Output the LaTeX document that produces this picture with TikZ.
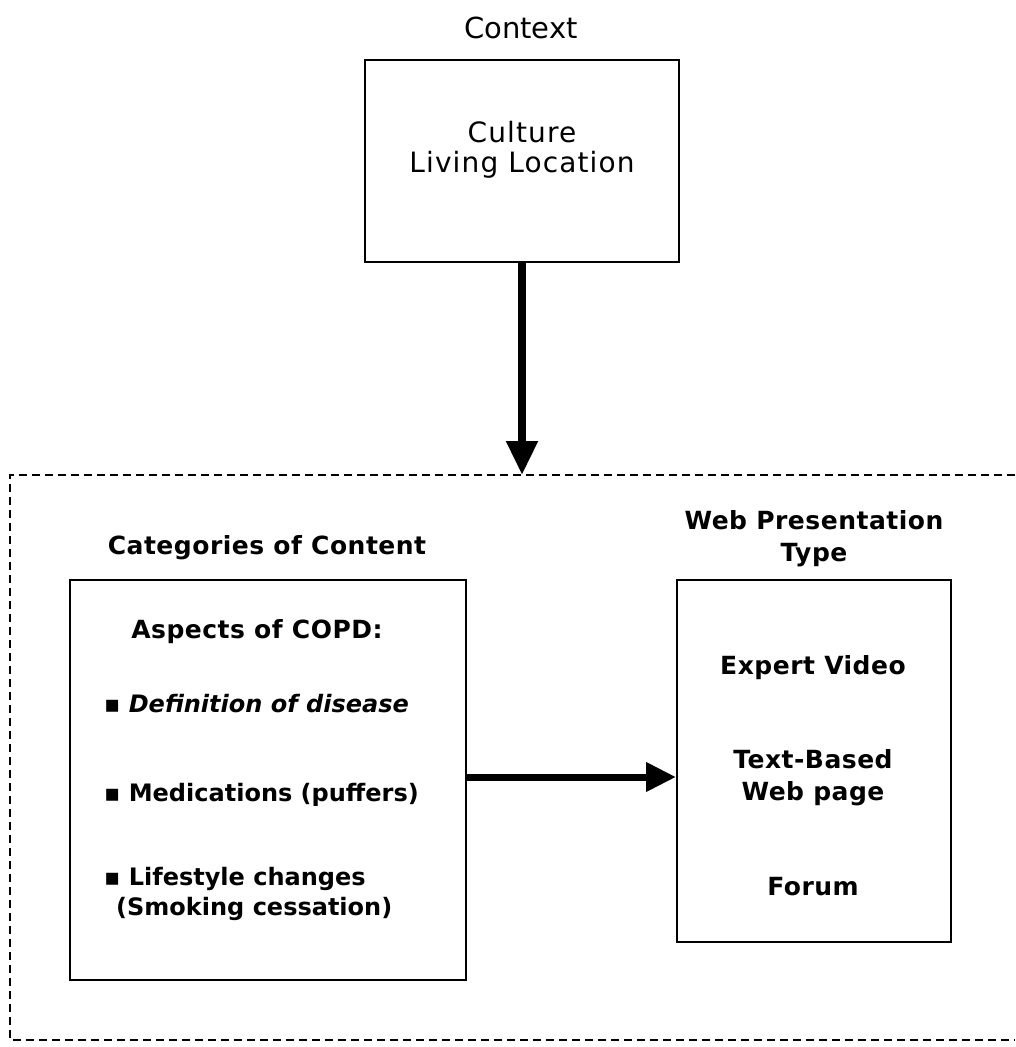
\documentclass[tikz,border=0pt]{standalone}
\usepackage{fontspec}
\setmainfont{DejaVu Sans}
\usetikzlibrary{arrows.meta}
\begin{document}
\begin{tikzpicture}[x=1pt,y=-1pt,
  boxnode/.style={draw=black, line width=2pt, inner sep=0pt},
  lbl/.style={inner sep=0pt, anchor=center, align=center},
  hdr/.style={lbl, font=\fontsize{25}{32}\bfseries\selectfont\addfontfeature{LetterSpace=2}},
  itm/.style={inner sep=0pt, anchor=west, align=left, font=\fontsize{24}{30}\bfseries\selectfont},
  thick arrow/.style={line width=8pt, -{Triangle[width=30pt,length=34pt]}}
]
\useasboundingbox[fill=white] (0,0) rectangle (1015,1047);

% Context
\node[lbl, font=\fontsize{29}{34}\selectfont] (ctxlabel) at (521,28) {Context};
\node[boxnode, minimum width=314pt, minimum height=202pt] (ctx) at (522,161) {};
\node[lbl, font=\fontsize{28}{30}\selectfont\addfontfeature{LetterSpace=4}] (ctxtext) at (522,150) {Culture\\Living Location};

% dashed frame
\coordinate (dtl) at (10,475);
\draw[line width=1.6pt, dash pattern=on 8pt off 5pt] (1015,475) -- (dtl) -- (10,1040) -- (1015,1040);

% vertical arrow
\draw[thick arrow] (ctx.south) -- (ctx.south |- dtl);

% Left box
\node[hdr] (cathdr) at (267,548) {Categories of Content};
\node[boxnode, minimum width=396pt, minimum height=400pt] (left) at (268,780) {};
\node[hdr] (aspects) at (257,632) {Aspects of COPD:};
\node[itm, font=\fontsize{24}{30}\bfseries\itshape\selectfont] (def) at (104,704) {▪ Definition of disease};
\node[itm] (med) at (104,795) {▪ Medications (puffers)};
\node[itm] (life) at (104,894) {▪ Lifestyle changes\\\hspace*{12pt}(Smoking cessation)};

% Right box
\node[hdr] (webhdr) at (814,539) {Web Presentation\\Type};
\node[boxnode, minimum width=274pt, minimum height=362pt] (right) at (814,761) {};
\node[hdr] (video) at (813,668) {Expert Video};
\node[hdr] (textb) at (813,778) {Text-Based\\Web page};
\node[hdr] (forum) at (813,887) {Forum};

% horizontal arrow
\coordinate (ay) at (0,777);
\draw[line width=7pt, -{Triangle[width=28pt,length=30pt]}] (left.east |- ay) -- (right.west |- ay);
\end{tikzpicture}
\end{document}
